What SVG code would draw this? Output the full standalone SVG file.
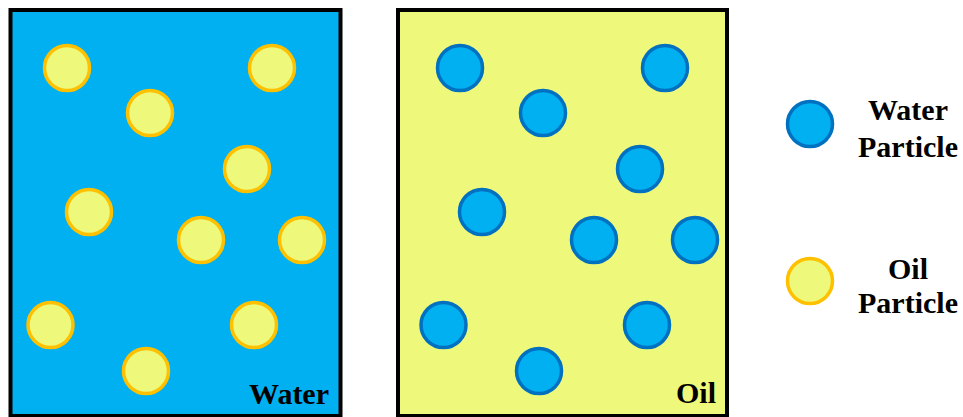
<svg xmlns="http://www.w3.org/2000/svg" width="963" height="417" viewBox="0 0 963 417">
<style>
.box{stroke:#000;stroke-width:4}
.oil{fill:#EEF87A;stroke:#FFC000;stroke-width:3.5}
.wat{fill:#00B0F0;stroke:#0070C0;stroke-width:3.5}
.lbl{font-family:"Liberation Serif","Times New Roman",serif;font-weight:bold;font-size:30px;fill:#000}
</style>
<rect width="963" height="417" fill="#fff"/>
<g id="water-container">
<rect class="box" x="10.5" y="10" width="330" height="406" fill="#00B0F0"/>
<g id="water-oil-particles">
<circle class="oil" cx="67" cy="68" r="22.5"/>
<circle class="oil" cx="272" cy="68" r="22.5"/>
<circle class="oil" cx="150" cy="113" r="22.5"/>
<circle class="oil" cx="247" cy="169" r="22.5"/>
<circle class="oil" cx="89" cy="212" r="22.5"/>
<circle class="oil" cx="201" cy="240" r="22.5"/>
<circle class="oil" cx="302" cy="240" r="22.5"/>
<circle class="oil" cx="50.5" cy="325" r="22.5"/>
<circle class="oil" cx="254" cy="325" r="22.5"/>
<circle class="oil" cx="146" cy="371" r="22.5"/>
</g>
<text class="lbl" x="329" y="404" text-anchor="end">Water</text>
</g>
<g id="oil-container">
<rect class="box" x="398" y="10" width="329" height="406" fill="#EEF87A"/>
<g id="oil-water-particles">
<circle class="wat" cx="460" cy="68" r="22.5"/>
<circle class="wat" cx="665" cy="68" r="22.5"/>
<circle class="wat" cx="543" cy="113" r="22.5"/>
<circle class="wat" cx="640" cy="169" r="22.5"/>
<circle class="wat" cx="482" cy="212" r="22.5"/>
<circle class="wat" cx="594" cy="240" r="22.5"/>
<circle class="wat" cx="695" cy="240" r="22.5"/>
<circle class="wat" cx="443.5" cy="325" r="22.5"/>
<circle class="wat" cx="647" cy="325" r="22.5"/>
<circle class="wat" cx="539" cy="371" r="22.5"/>
</g>
<text class="lbl" x="716" y="403" text-anchor="end">Oil</text>
</g>
<g id="legend-water">
<circle class="wat" cx="810" cy="124" r="22.5"/>
<text class="lbl" x="908" y="120" text-anchor="middle">Water</text>
<text class="lbl" x="908" y="157" text-anchor="middle">Particle</text>
</g>
<g id="legend-oil">
<circle class="oil" cx="810" cy="281" r="22.5"/>
<text class="lbl" x="908" y="279" text-anchor="middle">Oil</text>
<text class="lbl" x="908" y="313" text-anchor="middle">Particle</text>
</g>
<g id="connectors"/>
</svg>
